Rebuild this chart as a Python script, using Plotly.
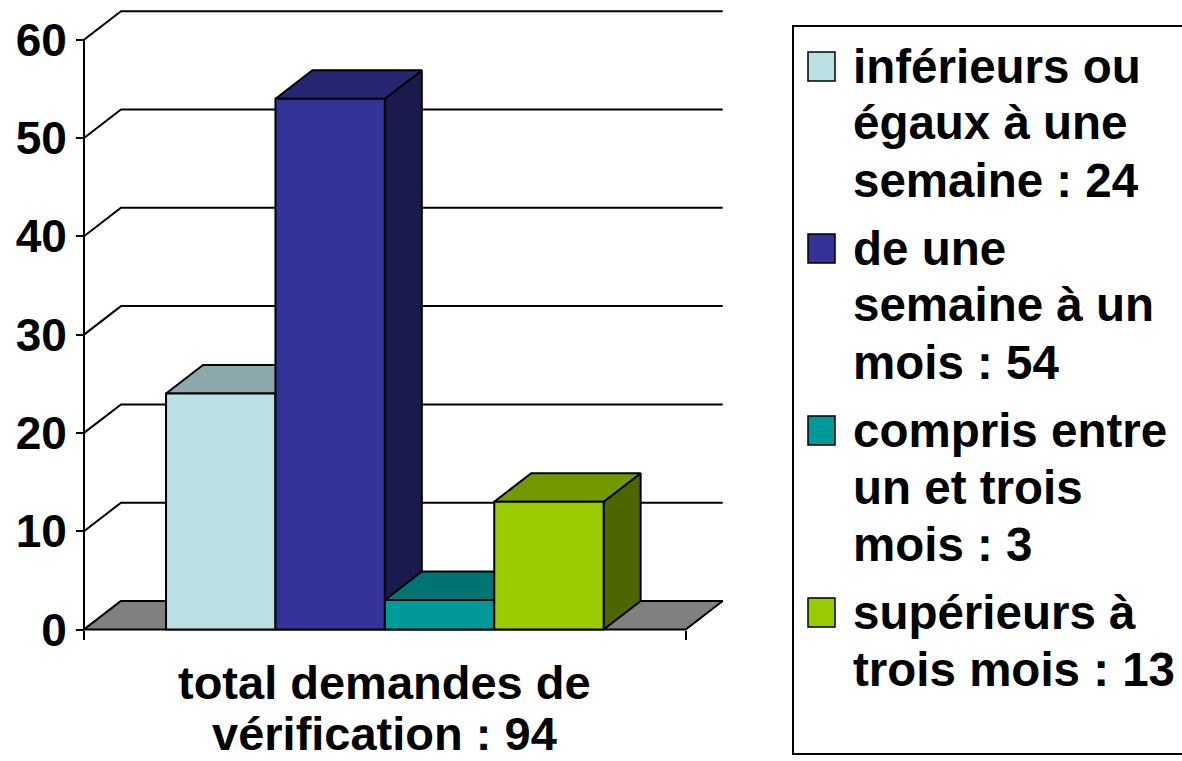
import plotly.graph_objects as go

# ---------------- data ----------------
category_lines = ["total demandes de", "vérification : 94"]
series_values = [24, 54, 3, 13]
series_label_lines = [
    ["inférieurs ou", "égaux à une", "semaine : 24"],
    ["de une", "semaine à un", "mois : 54"],
    ["compris entre", "un et trois", "mois : 3"],
    ["supérieurs à", "trois mois : 13"],
]
y_ticks = [0, 10, 20, 30, 40, 50, 60]

# ---------------- styles ----------------
front_colors = ["#BBE0E3", "#333399", "#009999", "#99CC00"]
top_colors = ["#8CA8AA", "#262673", "#007373", "#739900"]
side_colors = ["#5E7072", "#1A1A4D", "#004D4D", "#4D6600"]
floor_color = "#808080"
FONT = "Liberation Sans, Arial, sans-serif"
LW = 2

W, H = 1182, 761
PL, PR, PT, PB = 74, 726, 8, 645          # plot-area pixel box
XS, YS = 109.4, 9.83                      # px per unit
X0PX, Y0PX = 84, 629.5                    # pixel of data origin
FLOOR_W = 5.5
BAR_START = 0.75
BAR_W = 1.0
DX, DY = 37 / XS, 28.5 / YS               # 3-D depth offset in data units

xmin = -(X0PX - PL) / XS
xmax = (PR - X0PX) / XS
ymin = -(PB - Y0PX) / YS
ymax = (Y0PX - PT) / YS


def px_x(p):
    return (p - PL) / (PR - PL)


def px_y(p):
    return (PB - p) / (PB - PT)


fig = go.Figure()


def poly(xs, ys, fill, width=LW):
    fig.add_trace(go.Scatter(
        x=xs + [xs[0]], y=ys + [ys[0]], mode="lines", fill="toself",
        fillcolor=fill, line=dict(color="black", width=width),
        hoverinfo="skip", showlegend=False))


# back wall gridlines + left wall diagonals
gx, gy = [], []
for t in y_ticks:
    gx += [0, DX, FLOOR_W + DX, None]
    gy += [t, t + DY, t + DY, None]
fig.add_trace(go.Scatter(x=gx, y=gy, mode="lines",
                         line=dict(color="black", width=LW),
                         hoverinfo="skip", showlegend=False))

# floor
poly([0, FLOOR_W, FLOOR_W + DX, DX], [0, 0, DY, DY], floor_color)

# front axis line
fig.add_trace(go.Scatter(x=[0, 0], y=[0, y_ticks[-1]], mode="lines",
                         line=dict(color="black", width=LW),
                         hoverinfo="skip", showlegend=False))

# bars (painter's order, left to right)
for i, v in enumerate(series_values):
    x0 = BAR_START + i * BAR_W
    x1 = x0 + BAR_W
    poly([x1, x1 + DX, x1 + DX, x1], [0, DY, v + DY, v], side_colors[i])
    poly([x0, x1, x1 + DX, x0 + DX], [v, v, v + DY, v + DY], top_colors[i])
    poly([x0, x1, x1, x0], [0, 0, v, v], front_colors[i])

annotations = []
# category label
cat_baselines = [697, 748]
for j, line in enumerate(category_lines):
    annotations.append(dict(
        x=FLOOR_W / 2, xref="x", y=px_y(cat_baselines[j] - 15), yref="paper",
        text=line, showarrow=False, xanchor="center", yanchor="middle",
        font=dict(family=FONT, size=47, color="black", weight="bold")))

# legend (manual)
shapes = [dict(type="rect", xref="paper", yref="paper",
               x0=px_x(793), x1=px_x(1200), y0=px_y(754), y1=px_y(26),
               line=dict(color="black", width=LW), fillcolor="rgba(0,0,0,0)")]
ENTRY_TOP = 52
ENTRY_STEP = 182
LINE_STEP = 57
for i, lines in enumerate(series_label_lines):
    top = ENTRY_TOP + i * ENTRY_STEP
    shapes.append(dict(type="rect", xref="paper", yref="paper",
                       x0=px_x(808), x1=px_x(835), y0=px_y(top + 29), y1=px_y(top),
                       line=dict(color="black", width=1.5),
                       fillcolor=front_colors[i]))
    for j, line in enumerate(lines):
        base = top + 29 + j * LINE_STEP
        annotations.append(dict(
            x=px_x(851), xref="paper", y=px_y(base - 15), yref="paper",
            text=line, showarrow=False, xanchor="left", yanchor="middle",
            font=dict(family=FONT, size=47.5, color="black", weight="bold")))

fig.update_layout(
    width=W, height=H, autosize=False,
    margin=dict(l=PL, r=W - PR, t=PT, b=H - PB, pad=0),
    paper_bgcolor="white", plot_bgcolor="white",
    showlegend=False,
    xaxis=dict(range=[xmin, xmax], showgrid=False, zeroline=False,
               showline=False, tickvals=[0, FLOOR_W], ticks="outside",
               ticklen=9, tickwidth=LW, tickcolor="black",
               showticklabels=False, anchor="free",
               position=px_y(Y0PX), fixedrange=True),
    yaxis=dict(range=[ymin, ymax], showgrid=False, zeroline=False,
               showline=False, tickvals=y_ticks, ticks="outside",
               ticklen=8, tickwidth=LW, tickcolor="black",
               tickfont=dict(family=FONT, size=46, color="black", weight="bold"),
               ticklabelstandoff=0,
               anchor="free", position=px_x(X0PX), fixedrange=True),
    annotations=annotations,
    shapes=shapes,
)

fig.write_html(
    "out.html",
    config={"displayModeBar": False},
    post_script="document.body.style.margin='0';document.body.style.overflow='hidden';",
)
